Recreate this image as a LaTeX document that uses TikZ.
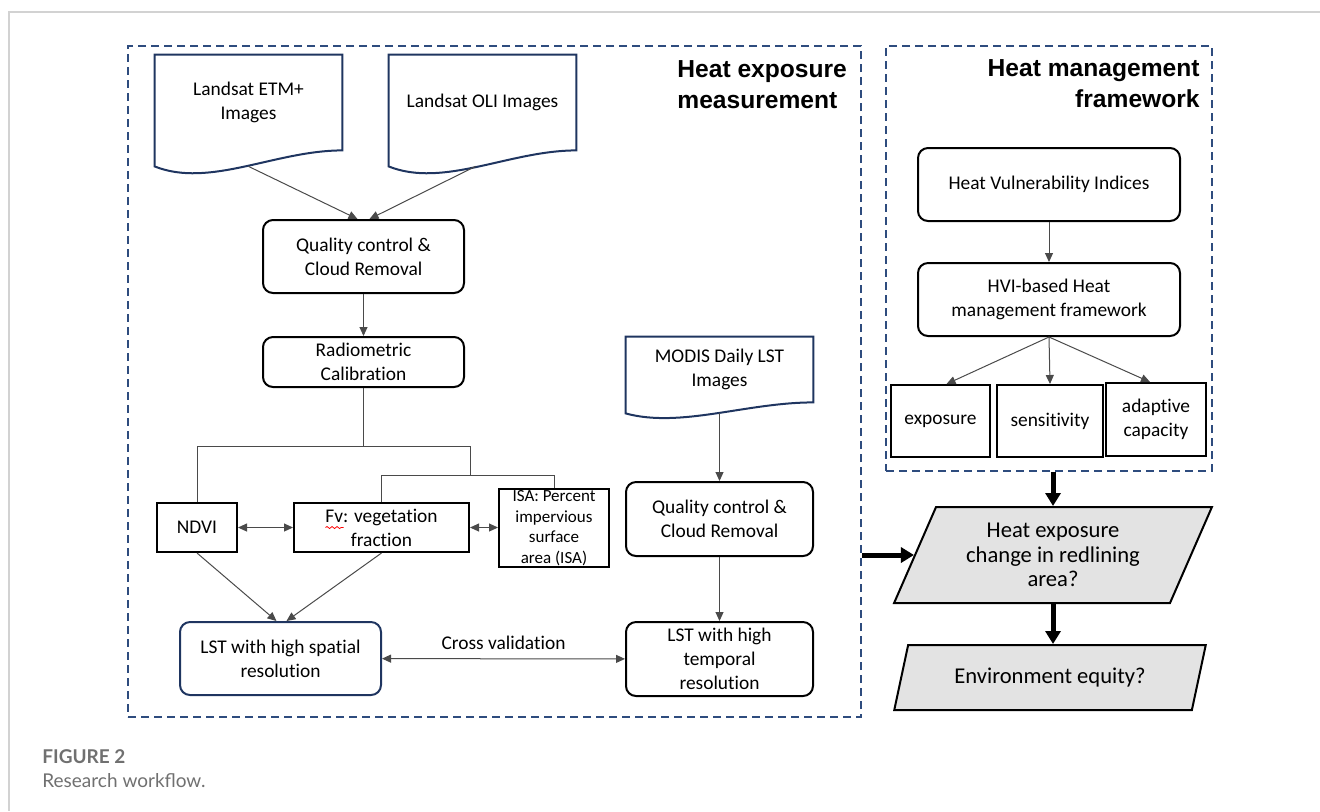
\documentclass[tikz,border=0pt]{standalone}
\usepackage{fontspec}
\setmainfont{Carlito}[Ligatures=NoCommon]
\newfontfamily\headfont{Liberation Sans}
\newfontfamily\capfont{Lato}
\usetikzlibrary{arrows.meta,positioning,shapes.geometric,calc,decorations.pathmorphing}
\definecolor{framenavy}{HTML}{2E4C7E}
\definecolor{docnavy}{HTML}{1F3560}
\definecolor{linegray}{HTML}{4A4A4A}
\definecolor{slantgray}{HTML}{E3E3E3}
\definecolor{capgray}{HTML}{707070}
\tikzset{
  mytext/.style = {font=\fontsize{9.7}{12}\selectfont, align=center, inner sep=0pt},
  myround/.style = {mytext, rectangle, rounded corners=5pt, draw, line width=1pt},
  myrect/.style = {mytext, rectangle, draw, line width=1pt},
  mydoc/.style = {mytext, minimum width=93.5pt},
  mygroup/.style = {rectangle, draw=framenavy, line width=1pt, dash pattern=on 4pt off 2.5pt},
  myslant/.style = {trapezium, trapezium left angle=64, trapezium right angle=116, trapezium stretches=true, draw, line width=1pt, fill=slantgray, align=center, inner sep=0pt, font=\fontsize{11.3}{12.3}\selectfont},
  mytitle/.style = {font=\headfont\bfseries\fontsize{12.3}{15.5}\selectfont, inner sep=0pt},
  myline/.style = {draw=linegray, line width=0.5pt},
  myarrow/.style = {myline, -{Triangle[length=4.5pt,width=4pt]}},
  mybiarrow/.style = {myline, {Triangle[length=4.5pt,width=4pt]}-{Triangle[length=4.5pt,width=4pt]}},
  mybigarrow/.style = {line width=2.5pt, -{Triangle[length=6.5pt,width=7.5pt]}},
}
% page outline of a document symbol: node, drop of left corner, dip of wave
\newcommand{\docoutline}[3]{%
  \draw[draw=docnavy, line width=1pt] (#1.north west) -- (#1.north east) -- (#1.south east)
    .. controls ($(#1.south east)+(-67,0)$) and ($(#1.south west)+(55,#3)$) .. ($(#1.south west)+(0,#2)$) -- cycle;}

\begin{document}
\begin{tikzpicture}[x=0.5pt, y=-0.5pt]
\useasboundingbox (0,0) rectangle (1320,811);
\draw[gray!35, line width=0.6pt] (1320,12) -- (9,12) -- (9,811);

% groups
\node[mygroup, minimum width=366.5pt, minimum height=335.5pt] (gleft) at (494.5,381.5) {};
\node[mygroup, minimum width=163pt, minimum height=212.5pt] (gright) at (1049,258.5) {};
\node[mytitle, align=left, anchor=north west] (tleft) at (677,60) {Heat exposure\\measurement};
\node[mytitle, align=right, anchor=north east] (tright) at (1200,59) {Heat management\\framework};

% heat exposure measurement
\node[mydoc, minimum height=47.5pt] (etm) at (248.5,102.5) {Landsat ETM+\\Images};
\node[mydoc, minimum height=47.5pt] (oli) at (482.5,102.5) {Landsat OLI Images};
\docoutline{etm}{16}{38}
\docoutline{oli}{16}{38}
\node[myround, minimum width=100.5pt, minimum height=36.5pt] (qc1) at (363.5,256.5) {Quality control \&\\Cloud Removal};
\node[myround, minimum width=100.5pt, minimum height=25pt] (radio) at (363.5,362) {Radiometric\\Calibration};
\node[myrect, minimum width=40pt, minimum height=24.5pt] (ndvi) at (197,527.5) {NDVI};
\node[myrect, minimum width=87.5pt, minimum height=24.5pt] (fv) at (381.5,527.5) {Fv: vegetation\\fraction};
\node[myrect, minimum width=55pt, minimum height=39pt, font=\fontsize{8.5}{10.3}\selectfont] (isa) at (554,528) {ISA: Percent\\impervious\\surface\\area (ISA)};
\node[myround, draw=docnavy, minimum width=100.5pt, minimum height=36.5pt] (lsts) at (280.5,658.5) {LST with high spatial\\resolution};
\node[mydoc, minimum height=32.5pt] (modis) at (719.5,369.5) {MODIS Daily LST\\Images};
\docoutline{modis}{11}{26}
\node[myround, minimum width=93.5pt, minimum height=37pt] (qc2) at (719.5,519) {Quality control \&\\Cloud Removal};
\node[myround, minimum width=93.5pt, minimum height=37pt] (lstt) at (719.5,659) {LST with high\\temporal\\resolution};
\draw[red, line width=0.4pt, decorate, decoration={snake, amplitude=0.5pt, segment length=2.5pt}] ($(fv.center)+(-56,0)$) -- ($(fv.center)+(-38,0)$);

\draw[myarrow] ($(etm.south)+(0,16)$) -- ([xshift=-3pt]qc1.north);
\draw[myarrow] ($(oli.south)+(-7,16)$) -- ([xshift=3pt]qc1.north);
\draw[myarrow] (qc1) -- (radio);
\coordinate (split) at ($(radio.south)+(0,58)$);
\draw[myline] (radio.south) -- (split);
\draw[myline] (ndvi.north) |- (split -| fv.east) -- ++(0,29) coordinate (split2);
\draw[myline] (fv.north) |- (split2) -| (isa.north);
\draw[mybiarrow] (ndvi) -- (fv);
\draw[mybiarrow] (fv) -- (isa.west |- fv.east);
\draw[myarrow] (ndvi.south) -- ([xshift=-2pt]lsts.north);
\draw[myarrow] (fv.south) -- ([xshift=3pt]lsts.north);
\draw[mybiarrow] (lsts) -- node[mytext, above=4.5pt] (xval) {Cross validation} (lstt);
\draw[myarrow] ($(modis.south)+(0,11)$) -- (qc2.north);
\draw[myarrow] (qc2) -- (lstt);

% heat management framework
\node[myround, minimum width=131pt, minimum height=36.5pt] (hvi) at (1049,184.5) {Heat Vulnerability Indices};
\node[myround, minimum width=131pt, minimum height=36.5pt] (hvib) at (1049,299.5) {HVI-based Heat\\management framework};
\node[myrect, minimum width=49.5pt, minimum height=36pt] (expo) at (940.5,421) {exposure};
\node[myrect, minimum width=53pt, minimum height=36pt] (sens) at (1050,421) {sensitivity};
\node[myrect, minimum width=50pt, minimum height=36.5pt] (adap) at (1156,419.5) {adaptive\\capacity};
\draw[myarrow] (hvi) -- (hvib);
\draw[myarrow] (hvib.south) -- ([xshift=3pt]expo.north);
\draw[myarrow] (hvib.south) -- (sens.north);
\draw[myarrow] (hvib.south) -- ([xshift=-3pt]adap.north);

% questions
\node[myslant, minimum width=159pt, minimum height=48pt] (heq) at (1053,555) {Heat exposure\\change in redlining\\area?};
\node[myslant, minimum width=156pt, minimum height=32.5pt] (env) at (1050,677.5) {Environment equity?};
\draw[mybigarrow] (gleft.east |- heq.west) -- (heq.west);
\draw[mybigarrow] (gright.south -| heq.north) -- (heq.north);
\draw[mybigarrow] (heq.south) -- (heq.south |- env.north);

% caption
\node[anchor=west, inner sep=0pt, text=capgray, font=\capfont\bfseries\fontsize{9.5}{11}\selectfont] (figno) at (42,757) {FIGURE 2};
\node[anchor=west, inner sep=0pt, text=capgray, font=\capfont\fontsize{9.5}{11}\selectfont] (figcap) at (42,781) {Research workflow.};
\end{tikzpicture}
\end{document}
